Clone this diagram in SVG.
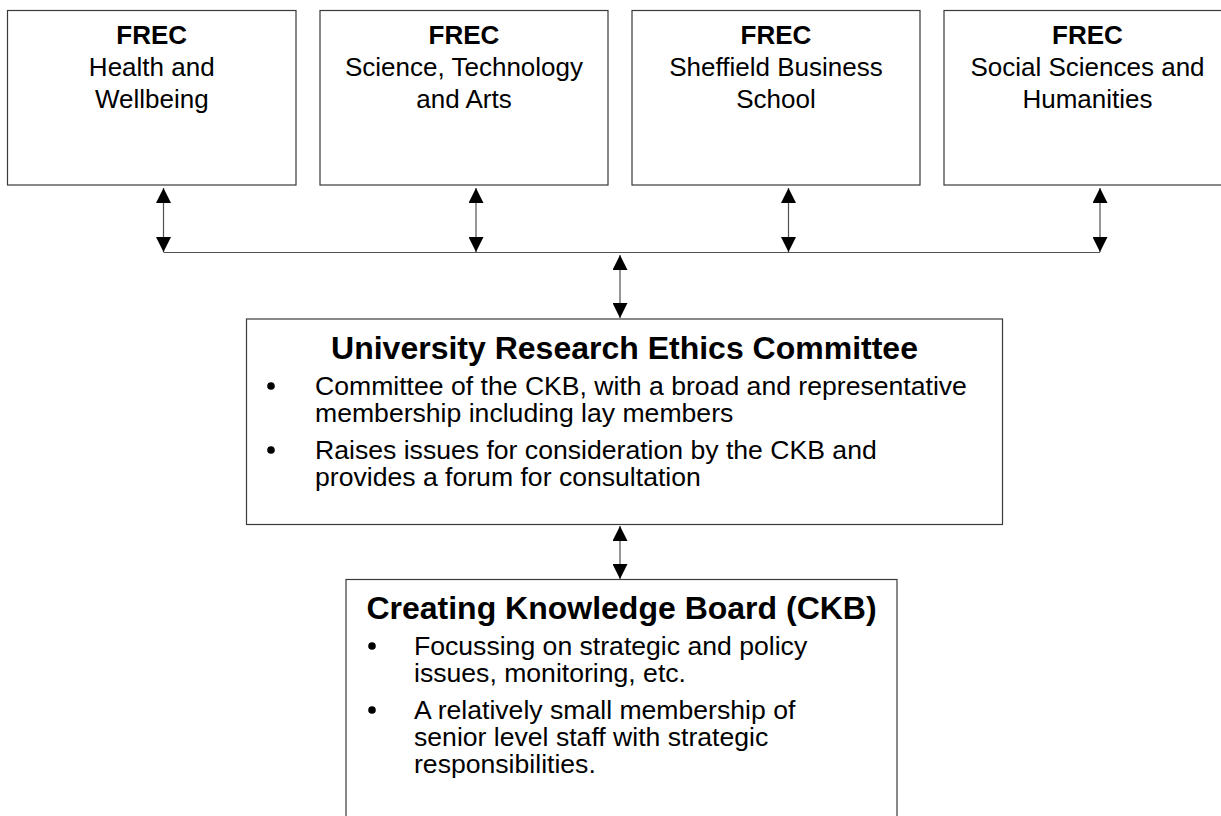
<svg xmlns="http://www.w3.org/2000/svg" width="1221" height="816" viewBox="0 0 1221 816">
  <style>
    .box { fill: #ffffff; stroke: #3a3a3a; stroke-width: 1.2; }
    .wire { fill: none; stroke: #505050; stroke-width: 1.2; }
    text { font-family: "Liberation Sans", Arial, sans-serif; fill: #000000; }
    .frec { font-size: 26px; text-anchor: middle; }
    .frec .hd { font-weight: bold; }
    .title { font-size: 32px; font-weight: bold; text-anchor: middle; }
    .body { font-size: 26.6px; }
    .dot { fill: #000000; }
  </style>
  <defs>
    <marker id="tip" viewBox="0 0 15 15" refX="15" refY="7.5" markerWidth="15" markerHeight="15" markerUnits="userSpaceOnUse" orient="auto-start-reverse">
      <path d="M0,0 L15,7.5 L0,15 Z" fill="#000000"/>
    </marker>
  </defs>

  <rect width="1221" height="816" fill="#ffffff"/>

  <!-- Faculty research ethics committees -->
  <g id="frec-health">
    <rect class="box" x="7.5" y="10.5" width="288.5" height="174.5"/>
    <text class="frec" x="151.75" y="44"><tspan class="hd">FREC</tspan><tspan x="151.75" y="76">Health and</tspan><tspan x="151.75" y="107.5">Wellbeing</tspan></text>
  </g>
  <g id="frec-sta">
    <rect class="box" x="320" y="10.5" width="288" height="174.5"/>
    <text class="frec" x="464" y="44"><tspan class="hd">FREC</tspan><tspan x="464" y="76">Science, Technology</tspan><tspan x="464" y="107.5">and Arts</tspan></text>
  </g>
  <g id="frec-sbs">
    <rect class="box" x="632" y="10.5" width="288" height="174.5"/>
    <text class="frec" x="776" y="44"><tspan class="hd">FREC</tspan><tspan x="776" y="76">Sheffield Business</tspan><tspan x="776" y="107.5">School</tspan></text>
  </g>
  <g id="frec-ssh">
    <rect class="box" x="944" y="10.5" width="288" height="174.5"/>
    <text class="frec" x="1087.5" y="44"><tspan class="hd">FREC</tspan><tspan x="1087.5" y="76">Social Sciences and</tspan><tspan x="1087.5" y="107.5">Humanities</tspan></text>
  </g>

  <!-- University Research Ethics Committee -->
  <g id="urec">
    <rect class="box" x="246.5" y="319" width="756" height="205.5"/>
    <text class="title" x="624.5" y="359">University Research Ethics Committee</text>
    <circle class="dot" cx="271" cy="386" r="3.8"/>
    <circle class="dot" cx="271" cy="450" r="3.8"/>
    <text class="body" x="315" y="395">Committee of the CKB, with a broad and representative<tspan x="315" y="422">membership including lay members</tspan></text>
    <text class="body" x="315" y="459">Raises issues for consideration by the CKB and<tspan x="315" y="486">provides a forum for consultation</tspan></text>
  </g>

  <!-- Creating Knowledge Board -->
  <g id="ckb">
    <rect class="box" x="346" y="579.5" width="551" height="250"/>
    <text class="title" x="621.5" y="619">Creating Knowledge Board (CKB)</text>
    <circle class="dot" cx="372" cy="646" r="3.8"/>
    <circle class="dot" cx="372" cy="710" r="3.8"/>
    <text class="body" x="414" y="655">Focussing on strategic and policy<tspan x="414" y="682">issues, monitoring, etc.</tspan></text>
    <text class="body" x="414" y="719">A relatively small membership of<tspan x="414" y="746">senior level staff with strategic</tspan><tspan x="414" y="773">responsibilities.</tspan></text>
  </g>

  <!-- Connectors -->
  <g id="connectors">
    <line class="wire" x1="163.5" y1="252.5" x2="1100" y2="252.5"/>
    <line class="wire" x1="163.5" y1="188" x2="163.5" y2="252" marker-start="url(#tip)" marker-end="url(#tip)"/>
    <line class="wire" x1="476" y1="188" x2="476" y2="252" marker-start="url(#tip)" marker-end="url(#tip)"/>
    <line class="wire" x1="788.5" y1="188" x2="788.5" y2="252" marker-start="url(#tip)" marker-end="url(#tip)"/>
    <line class="wire" x1="1100" y1="188" x2="1100" y2="252" marker-start="url(#tip)" marker-end="url(#tip)"/>
    <line class="wire" x1="620" y1="255" x2="620" y2="318" marker-start="url(#tip)" marker-end="url(#tip)"/>
    <line class="wire" x1="620" y1="526" x2="620" y2="579" marker-start="url(#tip)" marker-end="url(#tip)"/>
  </g>
</svg>
